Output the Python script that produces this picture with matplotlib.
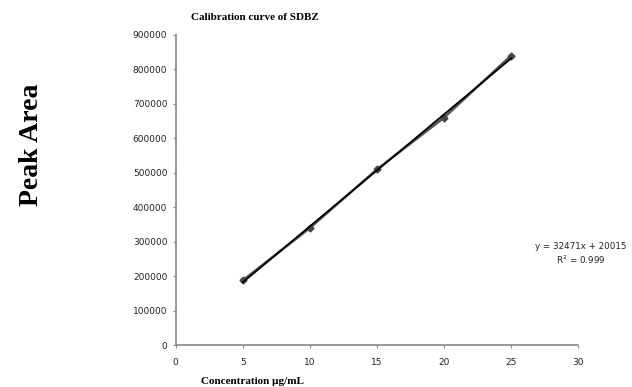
import matplotlib
matplotlib.use('Agg')
import matplotlib.pyplot as plt
import numpy as np

# data
conc = [5, 10, 15, 20, 25]
area = [188000, 340000, 510000, 660000, 840000]
slope = 32471
intercept = 20015
x_ticks = [0, 5, 10, 15, 20, 25, 30]
y_ticks = list(range(0, 900001, 100000))

fig = plt.figure(figsize=(6.32, 3.87), dpi=100)
ax = fig.add_axes([0.278, 0.108, 0.637, 0.802])

# data line and trendline
ax.plot(conc, area, color='#555555', lw=1.8, marker='D', ms=3.5, mfc='#444444', mec='#444444')
xt = np.array([conc[0], conc[-1]])
ax.plot(xt, slope * xt + intercept, color='black', lw=1.3)

ax.set_xlim(0, 30)
ax.set_ylim(0, 900000)
ax.set_xticks(x_ticks)
ax.set_yticks(y_ticks)
ax.tick_params(labelsize=6.5, length=2.5, width=0.8, color='#888888', pad=3.5,
               labelcolor='#222222')
ax.tick_params(axis='x', pad=7)

for s in ['top', 'right']:
    ax.spines[s].set_visible(False)
for s in ['left', 'bottom']:
    ax.spines[s].set_color('#888888')
    ax.spines[s].set_linewidth(1.2)

fig.text(0.403, 0.956, 'Calibration curve of SDBZ', fontsize=8, fontweight='bold',
         family='Liberation Serif', ha='center', va='center')
fig.text(0.05, 0.625, 'Peak Area', fontsize=20, fontweight='bold',
         family='Liberation Serif', rotation=90, ha='center', va='center')
fig.text(0.40, 0.013, 'Concentration µg/mL', fontsize=8, fontweight='bold',
         family='Liberation Serif', ha='center', va='center')
ax.text(30.2, 265000, 'y = 32471x + 20015\nR$^2$ = 0.999', fontsize=6.3,
        ha='center', va='center', linespacing=1.25, color='#222222')

fig.savefig('out.png', dpi=100)
